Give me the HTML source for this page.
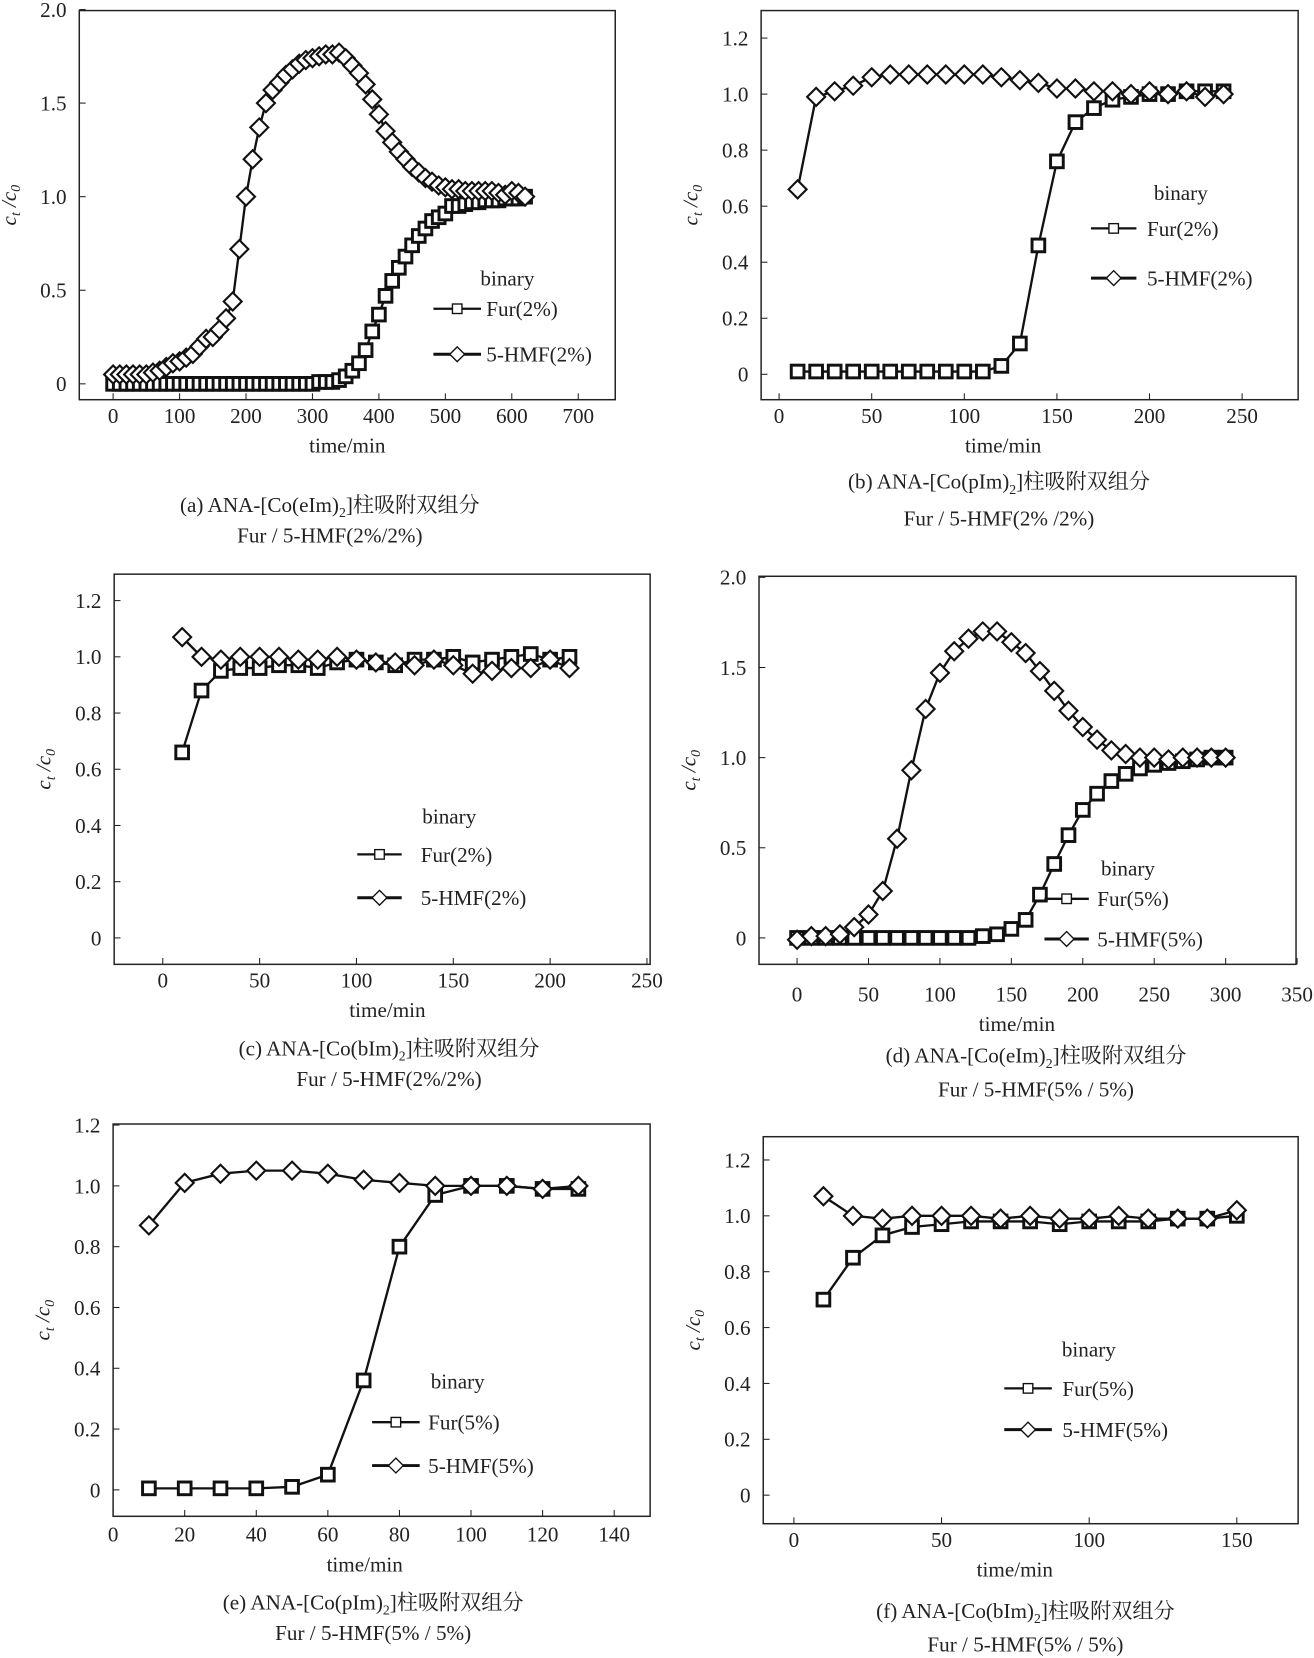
<!DOCTYPE html>
<html><head><meta charset="utf-8"><style>
html,body{margin:0;padding:0;background:#fff;}
svg{display:block;font-family:"Liberation Serif","Noto Serif CJK SC",serif;}
</style></head><body>
<svg id="fig" width="1314" height="1658" viewBox="0 0 1243 1568" preserveAspectRatio="none" xmlns="http://www.w3.org/2000/svg"></svg>
<script>
// ---- data ----
const xA = [0,10,20,30,40,50,60,70,80,90,100,110,120,130,140,150,160,170,180,190,200,210,220,230,240,250,260,270,280,290,300,310,320,330,340,350,360,370,380,390,400,410,420,430,440,450,460,470,480,490,500,510,520,530,540,550,560,570,580,590,600,610,620];
const furA = [0,0,0,0,0,0,0,0,0,0,0,0,0,0,0,0,0,0,0,0,0,0,0,0,0,0,0,0,0,0,0,0.01,0.01,0.01,0.02,0.04,0.07,0.11,0.18,0.28,0.37,0.47,0.55,0.62,0.68,0.74,0.79,0.83,0.87,0.89,0.91,0.95,0.95,0.96,0.97,0.97,0.98,0.98,0.98,0.99,0.99,0.99,1.0];
const hmfA = [0.05,0.05,0.05,0.05,0.05,0.05,0.06,0.07,0.09,0.11,0.12,0.14,0.16,0.2,0.24,0.25,0.29,0.35,0.44,0.72,1.0,1.2,1.37,1.5,1.57,1.61,1.65,1.68,1.71,1.73,1.74,1.75,1.76,1.76,1.77,1.74,1.7,1.66,1.6,1.52,1.44,1.35,1.29,1.24,1.2,1.16,1.13,1.1,1.08,1.06,1.05,1.04,1.04,1.03,1.03,1.03,1.03,1.03,1.02,1.01,1.03,1.02,1.0];
const xB = [10,20,30,40,50,60,70,80,90,100,110,120,130,140,150,160,170,180,190,200,210,220,230,240];
const furB = [0.01,0.01,0.01,0.01,0.01,0.01,0.01,0.01,0.01,0.01,0.01,0.03,0.11,0.46,0.76,0.9,0.95,0.98,0.99,1.0,1.0,1.01,1.01,1.01];
const hmfB = [0.66,0.99,1.01,1.03,1.06,1.07,1.07,1.07,1.07,1.07,1.07,1.06,1.05,1.04,1.02,1.02,1.01,1.01,1.0,1.01,1.0,1.01,0.99,1.0];
const xC = [10,20,30,40,50,60,70,80,90,100,110,120,130,140,150,160,170,180,190,200,210];
const furC = [0.66,0.88,0.95,0.96,0.96,0.97,0.97,0.96,0.98,0.99,0.98,0.97,0.99,0.99,1.0,0.98,0.99,1.0,1.01,0.99,1.0];
const hmfC = [1.07,1.0,0.99,1.0,1.0,1.0,0.99,0.99,1.0,0.99,0.98,0.98,0.97,0.99,0.97,0.94,0.95,0.96,0.96,0.99,0.96];
const xD = [0,10,20,30,40,50,60,70,80,90,100,110,120,130,140,150,160,170,180,190,200,210,220,230,240,250,260,270,280,290,300];
const furD = [0,0,0,0,0,0,0,0,0,0,0,0,0,0.01,0.02,0.05,0.1,0.24,0.41,0.57,0.71,0.8,0.87,0.91,0.94,0.96,0.97,0.98,0.99,1.0,1.0];
const hmfD = [-0.01,0.01,0.01,0.02,0.06,0.13,0.26,0.55,0.93,1.27,1.47,1.59,1.66,1.7,1.7,1.64,1.58,1.48,1.37,1.26,1.17,1.1,1.04,1.02,1.0,1.0,0.99,1.0,1.0,1.0,1.0];
const xE = [10,20,30,40,50,60,70,80,90,100,110,120,130];
const furE = [0.005,0.005,0.005,0.005,0.01,0.05,0.36,0.8,0.97,1.0,1.0,0.99,0.99];
const hmfE = [0.87,1.01,1.04,1.05,1.05,1.04,1.02,1.01,1.0,1.0,1.0,0.99,1.0];
const xF = [10,20,30,40,50,60,70,80,90,100,110,120,130,140,150];
const furF = [0.7,0.85,0.93,0.96,0.97,0.98,0.98,0.98,0.97,0.98,0.98,0.98,0.99,0.99,1.0];
const hmfF = [1.07,1.0,0.99,1.0,1.0,1.0,0.99,1.0,0.99,0.99,1.0,0.99,0.99,0.99,1.02];
const yTicks2 = ["0","0.5","1.0","1.5","2.0"];
const yTicks12 = ["0","0.2","0.4","0.6","0.8","1.0","1.2"];

const NS = "http://www.w3.org/2000/svg";
const svg = document.getElementById('fig');
const FS = 20;
function mk(tag, attrs, parent, text){
  const e = document.createElementNS(NS, tag);
  for (const k in attrs) e.setAttribute(k, attrs[k]);
  if (text !== undefined) e.textContent = text;
  (parent||svg).appendChild(e);
  return e;
}
function panel(p){
  const g = mk('g', {});
  
  
  const sx = v => p.x0px + (v - 0) * (p.x1px - p.x0px) / p.xmax;
  const sy = v => p.y0px - v * (p.y0px - p.ytopPx) / p.ytopVal;
  const box = mk('rect', {x:p.bx0, y:p.by0, width:p.bx1-p.bx0, height:p.by1-p.by0, fill:'none', stroke:'#222', 'stroke-width':1.4}, g);
  
  
  const tkY = p.by1 + (p.tkOff || 22);
  for (let v = p.xstart; v <= p.xmax + 0.001; v += p.xstep){
    const X = sx(v);
    mk('line', {x1:X, x2:X, y1:p.by1, y2:p.by1-6, stroke:'#222','stroke-width':1}, g);
    const t = mk('text', {x:X, y:tkY, 'font-size':FS, 'text-anchor':'middle', fill:'#222'}, g, String(v));
    
    
  }
  p.yTicks.forEach(lbl => {
    const Y = sy(parseFloat(lbl));
    mk('line', {x1:p.bx0, x2:p.bx0+6, y1:Y, y2:Y, stroke:'#222','stroke-width':1}, g);
    const t = mk('text', {x:p.bx0-12, y:Y+7, 'font-size':FS, 'text-anchor':'end', fill:'#222'}, g, lbl);
    
    
  });
  const xt = mk('text', {x:(p.bx0+p.bx1)/2 + p.xtOff, y:tkY+28, 'font-size':FS, 'text-anchor':'middle', fill:'#222'}, g, 'time/min');
  
  
  const yc = (p.by0+p.by1)/2;
  const yt = mk('text', {x:0, y:0, 'font-size':FS, 'text-anchor':'middle', fill:'#222', 'font-style':'italic', transform:`translate(${p.bx0-60},${yc}) rotate(-90)`}, g);
  
  
  mk('tspan', {}, yt, 'c');
  mk('tspan', {'font-size':13, dy:4}, yt, 't');
  mk('tspan', {dy:-4}, yt, ' /c');
  mk('tspan', {'font-size':13, dy:4}, yt, '0');
  function series(xs, ys, name, marker){
    const sg = mk('g', {}, g);
    
    
    const pts = xs.map((x,i) => sx(x).toFixed(1) + ',' + sy(ys[i]).toFixed(1)).join(' ');
    const pl = mk('polyline', {points:pts, fill:'none', stroke:'#111', 'stroke-width':2.2}, sg);
    
    
    xs.forEach((x,i) => {
      const X = sx(x), Y = sy(ys[i]);
      let m;
      if (marker === 'sq') m = mk('rect', {x:X-6, y:Y-6, width:12, height:12, fill:'#fff', stroke:'#111', 'stroke-width':2.8}, sg);
      else m = mk('polygon', {points:`${X},${Y-8.5} ${X+8.5},${Y} ${X},${Y+8.5} ${X-8.5},${Y}`, fill:'#fff', stroke:'#111', 'stroke-width':2}, sg);
      
      
    });
  }
  series(p.xs, p.fur, 'fur', 'sq');
  series(p.xs, p.hmf, 'hmf', 'di');
  const L = p.leg;
  const lg = mk('g', {}, g);
  
  
  mk('text', {x:L.bx, y:L.by+7, 'font-size':FS, 'text-anchor':'middle', fill:'#222'}, lg, 'binary');
  mk('line', {x1:L.l0, x2:L.l1, y1:L.fy, y2:L.fy, stroke:'#111','stroke-width':2.2}, lg);
  const lm = (L.l0+L.l1)/2;
  mk('rect', {x:lm-4.5, y:L.fy-4.5, width:9, height:9, fill:'#fff', stroke:'#111','stroke-width':1.3}, lg);
  const e1 = mk('text', {x:L.tx, y:L.fy+7, 'font-size':FS, fill:'#222'}, lg, p.furLbl);
  
  
  mk('line', {x1:L.l0, x2:L.l1, y1:L.hy, y2:L.hy, stroke:'#111','stroke-width':2.8}, lg);
  mk('polygon', {points:`${lm},${L.hy-7} ${lm+7},${L.hy} ${lm},${L.hy+7} ${lm-7},${L.hy}`, fill:'#fff', stroke:'#111','stroke-width':1.3}, lg);
  const e2 = mk('text', {x:L.tx, y:L.hy+7, 'font-size':FS, fill:'#222'}, lg, p.hmfLbl);
  
  
  const c1 = mk('text', {x:p.cx, y:p.cy1, 'font-size':FS, 'text-anchor':'middle', fill:'#222'}, g);
  
  
  mk('tspan', {}, c1, p.cap1a);
  mk('tspan', {'font-size':13, dy:5}, c1, '2');
  mk('tspan', {dy:-5}, c1, ']柱吸附双组分');
  const c2 = mk('text', {x:p.cx, y:p.cy2, 'font-size':FS, 'text-anchor':'middle', fill:'#222'}, g, p.cap2);
  
  
}

panel({id:'a', bx0:75, bx1:582, by0:10, by1:378, x0px:107, x1px:547, xmax:700, xstart:0, xstep:100,
  y0px:363, ytopPx:9, ytopVal:2.0, yTicks:yTicks2, xs:xA, fur:furA, hmf:hmfA, xtOff:0, tkOff:22,
  leg:{bx:480, by:263, l0:410, l1:455, fy:292, hy:335, tx:460}, furLbl:'Fur(2%)', hmfLbl:'5-HMF(2%)',
  cx:312, cy1:484, cy2:513, cap1a:'(a) ANA-[Co(eIm)', cap2:'Fur / 5-HMF(2%/2%)'});
panel({id:'b', bx0:720, bx1:1228, by0:10, by1:378, x0px:737, x1px:1175, xmax:250, xstart:0, xstep:50,
  y0px:354, ytopPx:36, ytopVal:1.2, yTicks:yTicks12, xs:xB, fur:furB, hmf:hmfB, xtOff:-25, tkOff:22,
  leg:{bx:1117, by:182, l0:1032, l1:1075, fy:216, hy:263, tx:1085}, furLbl:'Fur(2%)', hmfLbl:'5-HMF(2%)',
  cx:945, cy1:462, cy2:497, cap1a:'(b) ANA-[Co(pIm)', cap2:'Fur / 5-HMF(2% /2%)'});
panel({id:'c', bx0:108, bx1:615, by0:543, by1:912, x0px:154, x1px:612, xmax:250, xstart:0, xstep:50,
  y0px:887, ytopPx:568, ytopVal:1.2, yTicks:yTicks12, xs:xC, fur:furC, hmf:hmfC, xtOff:5, tkOff:22,
  leg:{bx:425, by:772, l0:338, l1:380, fy:808, hy:849, tx:398}, furLbl:'Fur(2%)', hmfLbl:'5-HMF(2%)',
  cx:368, cy1:998, cy2:1027, cap1a:'(c) ANA-[Co(bIm)', cap2:'Fur / 5-HMF(2%/2%)'});
panel({id:'d', bx0:718, bx1:1226, by0:545, by1:912, x0px:754, x1px:1227, xmax:350, xstart:0, xstep:50,
  y0px:887, ytopPx:546, ytopVal:2.0, yTicks:yTicks2, xs:xD, fur:furD, hmf:hmfD, xtOff:-10, tkOff:35,
  leg:{bx:1067, by:821, l0:988, l1:1030, fy:850, hy:888, tx:1038}, furLbl:'Fur(5%)', hmfLbl:'5-HMF(5%)',
  cx:980, cy1:1005, cy2:1037, cap1a:'(d) ANA-[Co(eIm)', cap2:'Fur / 5-HMF(5% / 5%)'});
panel({id:'e', bx0:107, bx1:615, by0:1063, by1:1434, x0px:107, x1px:581, xmax:140, xstart:0, xstep:20,
  y0px:1409, ytopPx:1064, ytopVal:1.2, yTicks:yTicks12, xs:xE, fur:furE, hmf:hmfE, xtOff:-16, tkOff:24,
  leg:{bx:433, by:1306, l0:352, l1:397, fy:1345, hy:1386, tx:405}, furLbl:'Fur(5%)', hmfLbl:'5-HMF(5%)',
  cx:353, cy1:1522, cy2:1551, cap1a:'(e) ANA-[Co(pIm)', cap2:'Fur / 5-HMF(5% / 5%)'});
panel({id:'f', bx0:722, bx1:1228, by0:1075, by1:1441, x0px:751, x1px:1170, xmax:150, xstart:0, xstep:50,
  y0px:1414, ytopPx:1097, ytopVal:1.2, yTicks:yTicks12, xs:xF, fur:furF, hmf:hmfF, xtOff:-15, tkOff:22,
  leg:{bx:1030, by:1276, l0:950, l1:995, fy:1313, hy:1352, tx:1005}, furLbl:'Fur(5%)', hmfLbl:'5-HMF(5%)',
  cx:970, cy1:1530, cy2:1562, cap1a:'(f) ANA-[Co(bIm)', cap2:'Fur / 5-HMF(5% / 5%)'});
</script>
</body></html>
